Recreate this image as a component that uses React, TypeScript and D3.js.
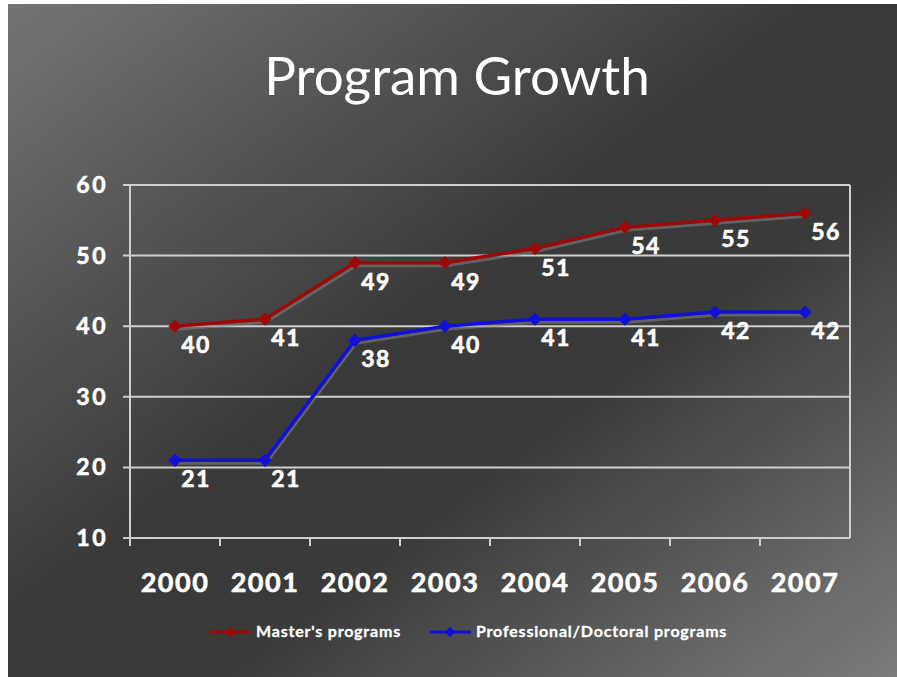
import React, { useEffect, useRef } from "react";
import * as d3 from "d3";

const years = ["2000", "2001", "2002", "2003", "2004", "2005", "2006", "2007"];
const masters = [40, 41, 49, 49, 51, 54, 55, 56];
const professional = [21, 21, 38, 40, 41, 41, 42, 42];
const yTicks = [10, 20, 30, 40, 50, 60];

const series = [
  { name: "Master's programs", values: masters, color: "#a00808" },
  { name: "Professional/Doctoral programs", values: professional, color: "#1010d8" },
];

const App = () => {
  const svgRef = useRef(null);

  const width = 897;
  const height = 677;

  useEffect(() => {
    const svg = d3.select(svgRef.current);
    svg.selectAll("*").remove();

    const defs = svg.append("defs");
    const grad = defs.append("linearGradient")
      .attr("id", "bg")
      .attr("x1", 0).attr("y1", 0)
      .attr("x2", 1).attr("y2", 1);
    grad.append("stop").attr("offset", "0%").attr("stop-color", "#747474");
    grad.append("stop").attr("offset", "46%").attr("stop-color", "#393939");
    grad.append("stop").attr("offset", "62%").attr("stop-color", "#3a3a3a");
    grad.append("stop").attr("offset", "100%").attr("stop-color", "#7c7c7c");

    svg.append("rect")
      .attr("width", width).attr("height", height)
      .attr("fill", "#ffffff");
    svg.append("rect")
      .attr("x", 8).attr("y", 4)
      .attr("width", width - 8).attr("height", height - 4)
      .attr("fill", "url(#bg)");

    const font = "Lato, 'Open Sans', sans-serif";

    // title
    svg.append("text")
      .attr("x", 457).attr("y", 95)
      .attr("text-anchor", "middle")
      .attr("fill", "#ffffff")
      .style("font-family", font)
      .style("font-size", "53px")
      .text("Program Growth");

    const left = 130, right = 850, top = 185, bottom = 538;

    const x = d3.scaleBand().domain(years).range([left, right]);
    const y = d3.scaleLinear().domain([10, 60]).range([bottom, top]);
    const cx = (i) => x(years[i]) + x.bandwidth() / 2;

    const grid = "#cfcfcf";

    // gridlines with left tick stubs
    svg.append("g")
      .selectAll("line")
      .data(yTicks)
      .join("line")
      .attr("x1", left - 7).attr("x2", right)
      .attr("y1", (d) => y(d)).attr("y2", (d) => y(d))
      .attr("stroke", grid)
      .attr("stroke-width", 2);

    // plot frame verticals
    svg.append("line")
      .attr("x1", left).attr("x2", left)
      .attr("y1", top).attr("y2", bottom + 8)
      .attr("stroke", grid).attr("stroke-width", 2);
    svg.append("line")
      .attr("x1", right).attr("x2", right)
      .attr("y1", top).attr("y2", bottom)
      .attr("stroke", grid).attr("stroke-width", 2);

    // x ticks between categories
    svg.append("g")
      .selectAll("line")
      .data(years.slice(1))
      .join("line")
      .attr("x1", (d) => x(d)).attr("x2", (d) => x(d))
      .attr("y1", bottom).attr("y2", bottom + 8)
      .attr("stroke", grid).attr("stroke-width", 2);

    const boldText = (sel, size, spacing) =>
      sel.attr("fill", "#ffffff")
        .attr("stroke", "#ffffff")
        .attr("stroke-width", 0.6)
        .style("font-family", font)
        .style("font-weight", "bold")
        .style("font-size", size)
        .style("letter-spacing", spacing);

    // y labels
    svg.append("g")
      .selectAll("text")
      .data(yTicks)
      .join("text")
      .attr("x", 108)
      .attr("y", (d) => y(d) + 8)
      .attr("text-anchor", "end")
      .call(boldText, "23px", "2.5px")
      .text((d) => d);

    // x labels
    svg.append("g")
      .selectAll("text")
      .data(years)
      .join("text")
      .attr("x", (d, i) => cx(i))
      .attr("y", 592)
      .attr("text-anchor", "middle")
      .call(boldText, "27px", "1.5px")
      .text((d) => d);

    const line = d3.line()
      .x((d, i) => cx(i))
      .y((d) => y(d));

    const diamond = d3.symbol().type(d3.symbolSquare).size(88);

    series.forEach((s) => {
      const g = svg.append("g");

      // soft shadow
      g.append("path")
        .attr("d", line(s.values))
        .attr("transform", "translate(1,3)")
        .attr("fill", "none")
        .attr("stroke", "rgba(130,130,130,0.55)")
        .attr("stroke-width", 3);

      g.append("path")
        .attr("d", line(s.values))
        .attr("fill", "none")
        .attr("stroke", s.color)
        .attr("stroke-width", 3.5);

      g.selectAll(".pt")
        .data(s.values)
        .join("path")
        .attr("class", "pt")
        .attr("d", diamond)
        .attr("transform", (d, i) => `translate(${cx(i)},${y(d)}) rotate(45)`)
        .attr("fill", s.color);

      g.selectAll(".lbl")
        .data(s.values)
        .join("text")
        .attr("class", "lbl")
        .attr("x", (d, i) => cx(i) + 21)
        .attr("y", (d) => y(d) + 27)
        .attr("text-anchor", "middle")
        .call(boldText, "23px", "1.5px")
        .text((d) => d);
    });

    // legend
    const legendPos = [210, 430];
    series.forEach((s, i) => {
      const lx = legendPos[i];
      const lg = svg.append("g");
      lg.append("line")
        .attr("x1", lx).attr("x2", lx + 41)
        .attr("y1", 632).attr("y2", 632)
        .attr("stroke", s.color).attr("stroke-width", 3);
      lg.append("path")
        .attr("d", d3.symbol().type(d3.symbolSquare).size(56)())
        .attr("transform", `translate(${lx + 20},632) rotate(45)`)
        .attr("fill", s.color);
      lg.append("text")
        .attr("x", lx + 46)
        .attr("y", 637)
        .call(boldText, "16px", "0.8px")
        .attr("stroke-width", 0.3)
        .text(s.name);
    });
  }, []);

  return (
    <svg
      ref={svgRef}
      width={width}
      height={height}
      style={{ position: "absolute", left: 0, top: 0, display: "block" }}
    ></svg>
  );
};

export default App;
